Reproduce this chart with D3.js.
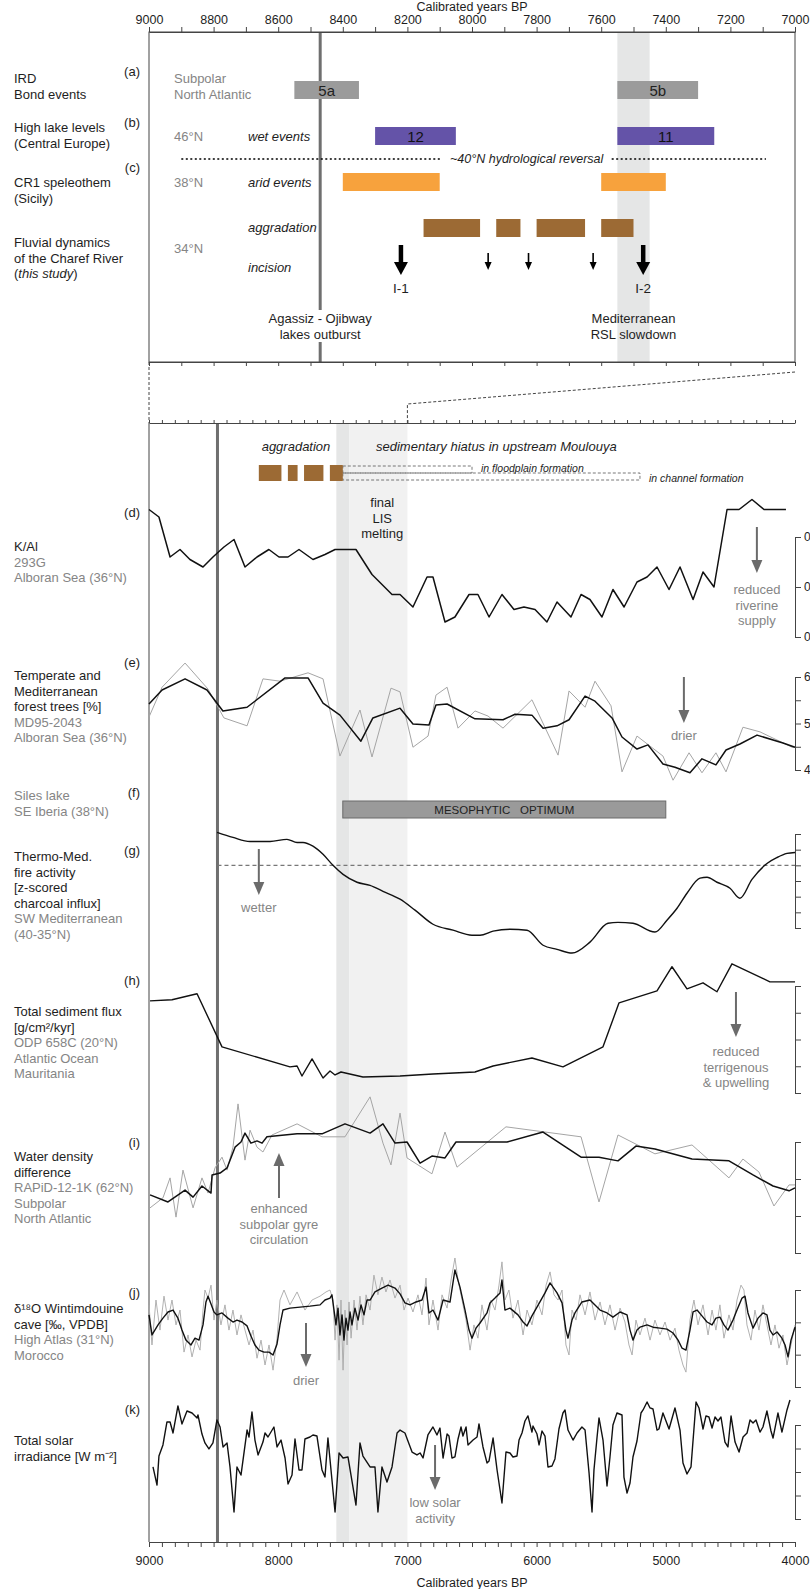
<!DOCTYPE html>
<html>
<head>
<meta charset="utf-8">
<script src="https://cdn.jsdelivr.net/npm/d3@7/dist/d3.min.js"></script>
<style>
body{margin:0;background:#fff;}
svg{display:block;font-family:"Liberation Sans",Arial,sans-serif;}
</style>
</head>
<body>
<div id="chart"></div>
<script>
// ---------- data (years BP) ----------
var topTicks = d3.range(9000, 6999, -100);
var lowTicks = d3.range(9000, 3999, -100);

var bondEvents = [{label:"5a", start:8550, end:8350}, {label:"5b", start:7550, end:7300}];
var lakeEvents = [{label:"12", start:8300, end:8050}, {label:"11", start:7550, end:7250}];
var aridEvents = [{start:8400, end:8100}, {start:7600, end:7400}];
var aggradation = [[8150, 7975], [7925, 7850], [7800, 7650], [7600, 7500]];
var incisions = [{yr:8220, big:true, label:"I-1"}, {yr:7950}, {yr:7825}, {yr:7625}, {yr:7470, big:true, label:"I-2"}];
var outburstYr = 8470;
var rslBand = [7550, 7450];
var lisBand = [7450, 7000];
var reversalLine = [8900, 7090];
var hiatusFloodplain = [7500, 6500];
var hiatusChannel = [7500, 5200];
var mesophytic = [7500, 5000];

var kAl = [[9000,0.271],[8923,0.268],[8837,0.252],[8760,0.255],[8683,0.251],[8582,0.248],[8505,0.252],[8420,0.256],
  [8342,0.259],[8257,0.248],[8164,0.252],[8072,0.255],[7994,0.252],[7924,0.252],[7839,0.255],[7731,0.251],[7638,0.253],
  [7560,0.255],[7398,0.255],[7274,0.245],[7119,0.237],[7057,0.237],[6957,0.232],[6848,0.244],[6802,0.244],[6709,0.226],
  [6632,0.228],[6523,0.237],[6454,0.237],[6368,0.228],[6268,0.237],[6175,0.231],[6098,0.232],[6012,0.231],[5920,0.226],
  [5842,0.234],[5734,0.228],[5656,0.237],[5587,0.235],[5494,0.228],[5409,0.239],[5323,0.232],[5223,0.242],[5145,0.244],
  [5068,0.248],[4975,0.239],[4890,0.248],[4789,0.235],[4712,0.246],[4627,0.240],[4526,0.271],[4433,0.271],[4333,0.275],
  [4240,0.271],[4070,0.271]];

var forestSmooth = [[9000,54.2],[8899,57.2],[8721,59.6],[8551,57.2],[8428,52.7],[8241,53.5],[7947,59.8],[7769,59.8],
  [7653,54.4],[7522,51.8],[7360,46.2],[7267,51.2],[7057,53.3],[6957,49.9],[6833,49.7],[6779,54.0],[6693,54.2],[6477,51.0],
  [6260,50.8],[6167,52.0],[6036,51.8],[5950,49.0],[5842,49.5],[5749,50.8],[5625,55.9],[5548,54.8],[5416,51.2],[5339,47.1],
  [5223,44.5],[5138,45.4],[5022,41.3],[4929,40.6],[4813,39.4],[4720,42.4],[4612,41.1],[4534,44.3],[4426,45.6],[4294,47.5],
  [4093,45.8],[4000,44.9]];
var forestRaw = [[9000,51.4],[8899,57.8],[8721,63.0],[8543,57.4],[8420,51.2],[8241,49.5],[8118,59.6],[7986,59.1],
  [7769,60.9],[7653,59.6],[7522,43.0],[7367,52.9],[7274,42.8],[7127,57.6],[7057,56.8],[6957,44.9],[6840,47.3],[6779,56.1],
  [6693,57.8],[6608,49.0],[6477,52.7],[6376,51.6],[6260,49.0],[6036,55.1],[5834,43.2],[5749,57.0],[5625,53.5],[5548,59.1],
  [5424,53.8],[5339,39.6],[5223,47.3],[5022,43.0],[4944,37.8],[4820,43.7],[4720,39.4],[4612,43.7],[4534,39.6],[4403,49.2],
  [4271,48.2],[4023,44.9],[4000,44.9]];

var fireZ = [[8473,1.05],[8350,0.89],[8218,0.76],[8063,0.76],[7932,0.83],[7854,0.73],[7808,0.73],[7731,0.61],[7653,0.35],
  [7576,0.0],[7498,-0.29],[7390,-0.54],[7289,-0.64],[7189,-0.83],[7057,-1.08],[6941,-1.43],[6802,-1.88],[6647,-2.07],
  [6500,-2.23],[6438,-2.23],[6337,-2.10],[6206,-2.04],[6074,-2.07],[5950,-2.55],[5842,-2.68],[5726,-2.80],[5587,-2.45],
  [5447,-1.85],[5370,-1.82],[5254,-1.85],[5084,-2.13],[4991,-1.75],[4913,-1.37],[4836,-0.89],[4735,-0.41],[4681,-0.38],
  [4604,-0.54],[4503,-0.73],[4426,-1.05],[4333,-0.45],[4217,0.06],[4139,0.25],[4062,0.38],[4000,0.41]];

var sedFlux = [[8992,6.89],[8822,6.97],[8628,7.42],[8435,3.45],[7909,1.95],[7854,2.02],[7816,1.27],[7738,2.55],[7653,1.12],
  [7599,1.65],[7560,1.35],[7514,1.57],[7344,1.20],[7057,1.27],[6802,1.42],[6477,1.57],[6337,2.02],[6036,2.62],[5796,1.95],
  [5486,3.45],[5362,6.74],[5068,7.64],[4952,9.44],[4836,7.79],[4712,8.24],[4604,7.57],[4488,9.66],[4194,8.31],[4000,8.31]];

var densSmooth = [[8992,0.357],[8853,0.338],[8721,0.370],[8659,0.351],[8590,0.381],[8520,0.362],[8512,0.411],[8450,0.416],
  [8396,0.430],[8334,0.486],[8288,0.500],[8257,0.524],[8211,0.497],[8164,0.503],[8125,0.497],[8087,0.514],[7854,0.522],
  [7661,0.522],[7483,0.549],[7289,0.524],[7189,0.549],[7096,0.497],[7003,0.500],[6902,0.443],[6810,0.462],[6709,0.457],
  [6624,0.500],[6229,0.500],[5950,0.527],[5656,0.459],[5517,0.459],[5370,0.449],[5231,0.489],[5084,0.481],[4797,0.454],
  [4511,0.449],[4325,0.411],[4170,0.381],[4046,0.368],[4000,0.376]];
var densRaw = [[8992,0.322],[8892,0.349],[8837,0.403],[8791,0.297],[8737,0.424],[8659,0.322],[8590,0.403],[8543,0.362],
  [8489,0.430],[8435,0.459],[8396,0.424],[8350,0.486],[8311,0.603],[8257,0.451],[8218,0.532],[8164,0.486],[8118,0.473],
  [8048,0.519],[7854,0.549],[7661,0.514],[7483,0.514],[7289,0.622],[7189,0.497],[7127,0.438],[7057,0.578],[7003,0.457],
  [6810,0.414],[6709,0.527],[6616,0.432],[6237,0.541],[5656,0.514],[5517,0.338],[5370,0.519],[5084,0.468],[4797,0.492],
  [4511,0.403],[4403,0.454],[4279,0.419],[4163,0.327],[4046,0.384],[4000,0.384]];

var d18oSmooth = [[9000,-8.23],[8977,-7.61],[8930,-7.92],[8892,-8.13],[8853,-8.32],[8814,-8.38],[8776,-8.13],[8745,-7.76],
  [8714,-7.45],[8675,-7.30],[8644,-7.51],[8613,-7.45],[8582,-7.92],[8559,-8.63],[8543,-8.81],[8520,-8.57],[8497,-8.32],
  [8474,-8.23],[8435,-8.29],[8389,-8.13],[8350,-8.01],[8319,-8.07],[8280,-8.01],[8241,-7.89],[8211,-7.58],[8180,-7.30],
  [8149,-7.14],[8110,-7.08],[8071,-7.08],[8040,-6.99],[8009,-7.33],[7986,-7.92],[7963,-8.38],[7909,-8.44],[7831,-8.47],
  [7754,-8.50],[7676,-8.54],[7638,-8.69],[7599,-8.75],[7584,-8.85],[7568,-8.38],[7553,-7.92],[7537,-8.44],[7522,-7.61],
  [7506,-8.23],[7491,-7.45],[7475,-8.13],[7460,-7.76],[7444,-8.32],[7429,-7.92],[7406,-8.44],[7382,-8.07],[7359,-8.54],
  [7336,-8.23],[7313,-8.69],[7289,-8.69],[7251,-8.94],[7197,-9.06],[7150,-9.15],[7096,-9.06],[7057,-8.88],[7019,-8.60],
  [6980,-8.54],[6933,-8.63],[6887,-8.69],[6856,-9.09],[6833,-8.29],[6802,-8.38],[6763,-8.07],[6724,-8.69],[6670,-8.63],
  [6632,-9.62],[6593,-9.09],[6554,-8.38],[6523,-7.76],[6500,-7.51],[6469,-7.82],[6438,-7.98],[6384,-8.29],[6361,-8.60],
  [6322,-8.75],[6283,-8.91],[6268,-9.31],[6245,-8.38],[6206,-8.44],[6144,-8.23],[6105,-8.01],[6074,-7.89],[6036,-8.20],
  [5997,-8.47],[5935,-8.91],[5896,-9.22],[5842,-8.91],[5803,-8.60],[5773,-7.76],[5757,-7.51],[5726,-8.07],[5703,-8.29],
  [5649,-8.63],[5587,-8.69],[5509,-8.38],[5455,-8.29],[5409,-8.16],[5354,-8.32],[5300,-8.23],[5277,-7.76],[5254,-7.45],
  [5223,-7.76],[5200,-7.85],[5145,-7.92],[5099,-7.85],[5045,-7.82],[4991,-7.79],[4944,-7.67],[4905,-7.45],[4874,-7.20],
  [4844,-7.14],[4813,-7.76],[4789,-8.32],[4758,-8.38],[4720,-8.20],[4681,-8.01],[4642,-7.92],[4612,-8.13],[4581,-8.16],
  [4550,-7.92],[4519,-7.76],[4480,-8.07],[4449,-8.38],[4410,-8.75],[4387,-8.81],[4364,-8.29],[4325,-7.82],[4286,-8.13],
  [4248,-8.29],[4217,-8.23],[4194,-7.76],[4170,-7.61],[4139,-7.70],[4101,-7.51],[4077,-7.30],[4054,-6.93],[4031,-7.45],
  [4000,-7.85]];
var d18oRaw = [[9000,-8.54],[8977,-7.30],[8946,-8.69],[8915,-7.76],[8884,-8.81],[8853,-8.07],[8822,-8.69],[8791,-7.92],
  [8760,-8.38],[8729,-7.08],[8698,-7.61],[8667,-6.93],[8636,-7.45],[8605,-7.14],[8582,-8.38],[8567,-9.00],[8543,-8.75],
  [8520,-9.15],[8497,-8.07],[8474,-8.69],[8443,-7.92],[8412,-8.54],[8381,-7.76],[8350,-8.38],[8319,-7.61],[8288,-8.23],
  [8257,-7.76],[8226,-7.30],[8195,-7.76],[8164,-6.89],[8133,-7.45],[8102,-6.68],[8071,-7.30],[8040,-6.52],[8009,-7.51],
  [7986,-8.69],[7955,-9.00],[7909,-8.54],[7854,-8.94],[7793,-8.38],[7738,-8.69],[7676,-8.81],[7630,-8.94],[7599,-9.00],
  [7576,-8.69],[7560,-7.45],[7545,-8.54],[7529,-6.83],[7514,-8.69],[7498,-6.52],[7483,-8.38],[7467,-7.30],[7452,-8.63],
  [7436,-7.51],[7413,-8.69],[7390,-7.76],[7367,-8.81],[7344,-7.92],[7320,-8.85],[7289,-8.38],[7259,-9.46],[7228,-8.85],
  [7197,-9.40],[7166,-8.94],[7135,-9.31],[7096,-8.75],[7057,-9.15],[7026,-8.38],[6995,-8.75],[6957,-8.32],[6918,-8.85],
  [6887,-8.23],[6856,-9.37],[6833,-7.92],[6802,-8.69],[6763,-7.76],[6732,-8.85],[6693,-8.44],[6662,-9.31],[6632,-9.99],
  [6608,-9.31],[6577,-8.69],[6546,-8.07],[6515,-7.14],[6485,-7.92],[6454,-7.51],[6423,-8.54],[6384,-7.76],[6353,-8.69],
  [6322,-8.38],[6291,-9.15],[6268,-9.87],[6245,-8.69],[6214,-9.00],[6183,-8.13],[6144,-8.69],[6105,-7.61],[6074,-8.38],
  [6036,-7.92],[5997,-8.69],[5958,-8.23],[5927,-9.15],[5896,-9.56],[5865,-8.85],[5834,-8.69],[5803,-9.00],[5773,-7.30],
  [5749,-6.99],[5726,-8.38],[5695,-8.07],[5664,-8.85],[5625,-8.23],[5587,-8.94],[5548,-8.07],[5509,-8.63],[5471,-7.92],
  [5432,-8.54],[5393,-7.76],[5354,-8.44],[5316,-8.01],[5285,-7.30],[5261,-6.99],[5231,-8.07],[5200,-7.61],[5161,-8.13],
  [5122,-7.45],[5084,-8.07],[5045,-7.61],[5006,-8.01],[4967,-7.45],[4929,-7.82],[4898,-7.14],[4867,-6.68],[4844,-6.46],
  [4813,-8.07],[4782,-8.69],[4751,-7.92],[4712,-8.54],[4673,-7.61],[4642,-8.38],[4612,-7.76],[4581,-8.54],[4550,-7.51],
  [4511,-8.23],[4480,-7.76],[4449,-8.69],[4418,-9.15],[4395,-9.00],[4372,-7.92],[4341,-7.45],[4310,-8.38],[4279,-7.76],
  [4248,-8.54],[4217,-7.92],[4186,-7.30],[4155,-7.92],[4124,-7.20],[4093,-7.61],[4062,-6.68],[4031,-7.30],[4000,-7.92]];

var tsi = [[8969,-0.357],[8938,-0.511],[8923,-0.264],[8892,-0.170],[8861,0.026],[8837,0.026],[8814,-0.068],[8776,0.162],
  [8745,0.009],[8706,0.119],[8667,0.102],[8628,0.060],[8621,0.085],[8590,-0.077],[8567,-0.153],[8536,-0.204],[8505,-0.153],
  [8474,0.043],[8450,-0.017],[8427,-0.187],[8396,-0.153],[8373,-0.357],[8342,-0.740],[8319,-0.357],[8288,-0.426],
  [8241,-0.043],[8226,-0.102],[8203,0.111],[8180,-0.128],[8156,-0.255],[8118,-0.145],[8102,-0.068],[8079,-0.102],
  [8033,-0.017],[8009,-0.187],[7978,-0.128],[7947,-0.281],[7924,-0.502],[7893,-0.426],[7870,-0.119],[7839,-0.383],
  [7816,-0.383],[7793,-0.119],[7754,-0.102],[7731,-0.085],[7700,-0.094],[7661,-0.383],[7638,-0.443],[7615,-0.111],
  [7560,-0.740],[7529,-0.238],[7498,-0.281],[7460,-0.272],[7398,-0.681],[7367,-0.153],[7344,-0.264],[7289,-0.357],
  [7251,-0.357],[7228,-0.740],[7197,-0.357],[7158,-0.485],[7119,-0.357],[7080,-0.068],[7057,-0.043],[7019,-0.068],
  [6964,-0.230],[6926,-0.255],[6902,-0.238],[6879,-0.281],[6841,-0.085],[6802,-0.017],[6771,-0.085],[6748,-0.026],
  [6724,-0.281],[6693,-0.077],[6678,-0.094],[6655,-0.281],[6632,-0.272],[6608,-0.119],[6585,-0.017],[6570,-0.094],
  [6546,-0.017],[6531,-0.170],[6492,-0.128],[6461,-0.102],[6446,0.009],[6415,-0.187],[6384,-0.323],[6368,-0.306],
  [6337,-0.111],[6306,-0.383],[6268,-0.664],[6237,-0.230],[6206,-0.238],[6183,-0.272],[6152,-0.264],[6136,-0.128],
  [6113,-0.068],[6090,0.034],[6067,0.077],[6036,-0.060],[6028,-0.009],[5997,-0.077],[5981,-0.170],[5958,-0.051],
  [5935,-0.094],[5912,-0.357],[5881,-0.349],[5858,-0.289],[5827,-0.034],[5796,0.102],[5780,0.128],[5757,-0.043],
  [5718,-0.128],[5687,-0.068],[5649,-0.017],[5625,-0.043],[5594,-0.409],[5571,-0.740],[5556,-0.383],[5532,-0.102],
  [5517,0.060],[5486,-0.128],[5455,-0.519],[5432,-0.272],[5409,0.0],[5378,0.102],[5339,0.085],[5324,-0.443],[5300,-0.579],
  [5277,-0.494],[5254,-0.272],[5223,-0.136],[5192,0.102],[5176,0.128],[5145,0.196],[5122,0.145],[5099,0.136],[5068,-0.043],
  [5053,-0.034],[5022,0.102],[4975,-0.034],[4929,0.145],[4890,-0.043],[4867,-0.323],[4836,-0.417],[4805,-0.357],
  [4766,0.196],[4743,0.145],[4712,-0.034],[4689,0.077],[4666,0.068],[4642,-0.026],[4619,0.068],[4596,0.034],[4573,0.068],
  [4542,-0.145],[4519,-0.187],[4495,0.077],[4464,-0.145],[4433,-0.230],[4402,-0.102],[4371,-0.068],[4348,0.043],
  [4325,0.017],[4302,0.043],[4271,-0.060],[4248,-0.017],[4217,0.119],[4186,-0.051],[4170,-0.111],[4132,0.102],
  [4101,-0.060],[4062,0.128],[4039,0.213]];

// ---------- layout ----------
var W = 810, H = 1589;
var L = 149, R = 795;
var topY0 = 32, topY1 = 362, lowY0 = 423, lowY1 = 1542;
var dark = "#1e1e1e", grey = "#858585", arrowGrey = "#6b6b6b";
var FS = 13;

var x1 = d3.scaleLinear().domain([9000, 7000]).range([L, R]);
var x2 = d3.scaleLinear().domain([9000, 4000]).range([L, R]);

var yD = d3.scaleLinear().domain([0.22, 0.26]).range([637, 537]);
var yE = d3.scaleLinear().domain([40, 60]).range([770, 677]);
var yG = d3.scaleLinear().domain([-2, 1]).range([928, 834]);
var yH = d3.scaleLinear().domain([0, 8]).range([1093, 986]);
var yI = d3.scaleLinear().domain([0.2, 0.5]).range([1253, 1142]);
var yJ = d3.scaleLinear().domain([-9, -6]).range([1290, 1387]);
var yK = d3.scaleLinear().domain([-0.8, 0]).range([1519, 1425]);

var svg = d3.select("#chart").append("svg").attr("width", W).attr("height", H);

function txt(x, y, s, o) {
  o = o || {};
  var t = svg.append("text").attr("x", x).attr("y", y)
    .attr("font-size", o.size || FS).attr("fill", o.fill || dark)
    .attr("text-anchor", o.anchor || "start").text(s);
  if (o.italic) t.attr("font-style", "italic");
  return t;
}

function lines(x, y, arr, o) {
  arr.forEach(function (l, i) {
    var oo = Object.assign({}, o || {});
    if (l[1]) oo.fill = grey;
    txt(x, y + i * 15.5, l[0], oo);
  });
}

function downArrow(x, yA, yB, shaft, hw, hl, col) {
  svg.append("line").attr("x1", x).attr("x2", x).attr("y1", yA).attr("y2", yB - hl + 1)
    .attr("stroke", col).attr("stroke-width", shaft);
  svg.append("path").attr("d", "M" + (x - hw / 2) + "," + (yB - hl) + "L" + (x + hw / 2) + "," + (yB - hl) + "L" + x + "," + yB + "Z")
    .attr("fill", col);
}
function upArrow(x, yA, yB, shaft, hw, hl, col) {
  svg.append("line").attr("x1", x).attr("x2", x).attr("y1", yA).attr("y2", yB + hl - 1)
    .attr("stroke", col).attr("stroke-width", shaft);
  svg.append("path").attr("d", "M" + (x - hw / 2) + "," + (yB + hl) + "L" + (x + hw / 2) + "," + (yB + hl) + "L" + x + "," + yB + "Z")
    .attr("fill", col);
}

// ---------- bands and event lines ----------
svg.append("rect").attr("x", x1(rslBand[0])).attr("y", topY0).attr("width", x1(rslBand[1]) - x1(rslBand[0]))
  .attr("height", topY1 - topY0).attr("fill", "#e5e6e6");
svg.append("rect").attr("x", x2(rslBand[0])).attr("y", lowY0).attr("width", x2(rslBand[1]) - x2(rslBand[0]))
  .attr("height", lowY1 - lowY0).attr("fill", "#e5e6e6");
svg.append("rect").attr("x", x2(lisBand[0])).attr("y", lowY0).attr("width", x2(lisBand[1]) - x2(lisBand[0]))
  .attr("height", lowY1 - lowY0).attr("fill", "#f1f1f1");

svg.append("line").attr("x1", x1(outburstYr)).attr("x2", x1(outburstYr)).attr("y1", topY0).attr("y2", topY1)
  .attr("stroke", "#6f6f6f").attr("stroke-width", 3);
svg.append("line").attr("x1", x2(outburstYr)).attr("x2", x2(outburstYr)).attr("y1", lowY0).attr("y2", lowY1)
  .attr("stroke", "#6f6f6f").attr("stroke-width", 3);

// ---------- top panel frame and axes ----------
svg.append("rect").attr("x", L).attr("y", topY0).attr("width", R - L).attr("height", topY1 - topY0)
  .attr("fill", "none").attr("stroke", "#444").attr("stroke-width", 1);

var axTop = svg.append("g").attr("transform", "translate(0," + topY0 + ")")
  .call(d3.axisTop(x1).tickValues(topTicks).tickSize(5).tickSizeOuter(0)
    .tickFormat(function (d) { return d % 200 === 0 ? d : ""; }));
axTop.selectAll("text").attr("font-size", 12.5).attr("fill", dark).attr("font-family", "Liberation Sans, Arial");
axTop.selectAll("line,path").attr("stroke", "#444");
txt((L + R) / 2, 11, "Calibrated years BP", {anchor: "middle", size: 12.5});

var axTopB = svg.append("g").attr("transform", "translate(0," + topY1 + ")")
  .call(d3.axisBottom(x1).tickValues(topTicks).tickSize(4).tickSizeOuter(0).tickFormat(""));
axTopB.selectAll("line,path").attr("stroke", "#444");

// zoom connectors
svg.append("path").attr("d", "M" + L + "," + topY1 + "L" + L + "," + lowY0)
  .attr("stroke", "#444").attr("stroke-dasharray", "3,2").attr("fill", "none");
svg.append("path").attr("d", "M" + R + "," + (topY1 + 10) + "L" + x2(7000) + "," + (topY1 + 42) + "L" + x2(7000) + "," + lowY0)
  .attr("stroke", "#444").attr("stroke-dasharray", "3,2").attr("fill", "none");

// ---------- top panel content ----------
bondEvents.forEach(function (e) {
  svg.append("rect").attr("x", x1(e.start)).attr("y", 81).attr("width", x1(e.end) - x1(e.start)).attr("height", 18)
    .attr("fill", "#9b9b9b");
  txt((x1(e.start) + x1(e.end)) / 2, 96, e.label, {anchor: "middle", size: 15, fill: "#222"});
});
lakeEvents.forEach(function (e) {
  svg.append("rect").attr("x", x1(e.start)).attr("y", 127).attr("width", x1(e.end) - x1(e.start)).attr("height", 18)
    .attr("fill", "#6453a8");
  txt((x1(e.start) + x1(e.end)) / 2, 142, e.label, {anchor: "middle", size: 15, fill: "#111"});
});
aridEvents.forEach(function (e) {
  svg.append("rect").attr("x", x1(e.start)).attr("y", 173).attr("width", x1(e.end) - x1(e.start)).attr("height", 18)
    .attr("fill", "#f7a23d");
});
aggradation.forEach(function (e) {
  svg.append("rect").attr("x", x1(e[0])).attr("y", 219).attr("width", x1(e[1]) - x1(e[0])).attr("height", 18)
    .attr("fill", "#9c6a34");
});
incisions.forEach(function (e) {
  if (e.big) {
    downArrow(x1(e.yr), 245, 275, 4.5, 14, 13, "#000");
    txt(x1(e.yr), 293, e.label, {anchor: "middle", size: 13.5});
  } else {
    downArrow(x1(e.yr), 253, 270, 1.6, 7, 8, "#000");
  }
});

// hydrological reversal
svg.append("line").attr("x1", x1(reversalLine[0])).attr("x2", x1(7840) - 82).attr("y1", 159).attr("y2", 159)
  .attr("stroke", "#000").attr("stroke-width", 1.3).attr("stroke-dasharray", "2,2.5");
svg.append("line").attr("x1", x1(7840) + 88).attr("x2", x1(reversalLine[1])).attr("y1", 159).attr("y2", 159)
  .attr("stroke", "#000").attr("stroke-width", 1.3).attr("stroke-dasharray", "2,2.5");
txt(x1(7840) + 3, 163, "~40°N hydrological reversal", {anchor: "middle", size: 12.5, italic: true});

// left labels of top panel
lines(14, 83, [["IRD"], ["Bond events"]]);
lines(14, 132, [["High lake levels"], ["(Central Europe)"]]);
lines(14, 187, [["CR1 speleothem"], ["(Sicily)"]]);
lines(14, 247, [["Fluvial dynamics"], ["of the Charef River"]]);
var ts = txt(14, 278, "(");
ts.append("tspan").attr("font-style", "italic").text("this study");
ts.append("tspan").text(")");
txt(140, 76, "(a)", {anchor: "end"});
txt(140, 127, "(b)", {anchor: "end"});
txt(140, 172, "(c)", {anchor: "end"});

lines(174, 83, [["Subpolar", 1], ["North Atlantic", 1]]);
txt(174, 141, "46°N", {fill: grey});
txt(174, 187, "38°N", {fill: grey});
txt(174, 253, "34°N", {fill: grey});
txt(248, 141, "wet events", {italic: true});
txt(248, 187, "arid events", {italic: true});
txt(248, 232, "aggradation", {italic: true});
txt(248, 272, "incision", {italic: true});

svg.append("rect").attr("x", x1(outburstYr) - 58).attr("y", 310).attr("width", 116).attr("height", 32).attr("fill", "#fff");
txt(x1(outburstYr), 323, "Agassiz - Ojibway", {anchor: "middle"});
txt(x1(outburstYr), 339, "lakes outburst", {anchor: "middle"});
txt(x1(7500), 323, "Mediterranean", {anchor: "middle"});
txt(x1(7500), 339, "RSL slowdown", {anchor: "middle"});

// ---------- lower panel frame and axes ----------
var axLowT = svg.append("g").attr("transform", "translate(0," + lowY0 + ")")
  .call(d3.axisTop(x2).tickValues(lowTicks).tickSize(3).tickSizeOuter(0).tickFormat(""));
axLowT.selectAll("line,path").attr("stroke", "#444");
svg.append("line").attr("x1", L).attr("x2", L).attr("y1", lowY0).attr("y2", lowY1).attr("stroke", "#444");

var axBot = svg.append("g").attr("transform", "translate(0," + lowY1 + ")")
  .call(d3.axisBottom(x2).tickValues(lowTicks).tickSize(5).tickSizeOuter(0).tickPadding(9)
    .tickFormat(function (d) { return d % 1000 === 0 ? d : ""; }));
axBot.selectAll("text").attr("font-size", 12.5).attr("fill", dark).attr("font-family", "Liberation Sans, Arial");
axBot.selectAll("line,path").attr("stroke", "#444");
txt((L + R) / 2, 1587, "Calibrated years BP", {anchor: "middle", size: 12.5});

// right brackets (labels run off the right edge as in the original figure)
function bracket(ys, ticks, fmt) {
  var g = svg.append("g").attr("transform", "translate(" + R + ",0)")
    .call(d3.axisRight(ys).tickValues(ticks).tickSize(6).tickSizeOuter(0).tickPadding(3).tickFormat(fmt || function () { return ""; }));
  g.selectAll("line,path").attr("stroke", "#444");
  g.selectAll("text").attr("font-size", 12).attr("fill", dark).attr("font-family", "Liberation Sans, Arial");
}
bracket(yD, [0.22, 0.24, 0.26], d3.format(".2f"));
bracket(yE, [40, 45, 50, 55, 60], function (d) { return d % 10 === 0 ? d : ""; });
bracket(yG, d3.range(-2, 1.01, 0.5));
bracket(yH, [0, 2, 4, 6, 8]);
bracket(yI, [0.2, 0.3, 0.4, 0.5]);
bracket(yJ, [-9, -8, -7, -6]);
bracket(yK, [-0.8, -0.6, -0.4, -0.2, 0]);

// ---------- lower panel: fluvial record ----------
txt(296, 451, "aggradation", {anchor: "middle", italic: true});
txt(376, 451, "sedimentary hiatus in upstream Moulouya", {italic: true});
svg.append("rect").attr("x", x2(hiatusFloodplain[0])).attr("y", 466).attr("width", x2(hiatusFloodplain[1]) - x2(hiatusFloodplain[0]))
  .attr("height", 7).attr("fill", "none").attr("stroke", "#555").attr("stroke-width", 0.8).attr("stroke-dasharray", "3,2");
svg.append("rect").attr("x", x2(hiatusChannel[0])).attr("y", 473).attr("width", x2(hiatusChannel[1]) - x2(hiatusChannel[0]))
  .attr("height", 7).attr("fill", "none").attr("stroke", "#555").attr("stroke-width", 0.8).attr("stroke-dasharray", "3,2");
txt(x2(hiatusFloodplain[1]) + 9, 472, "in floodplain formation", {italic: true, size: 10.5});
txt(x2(hiatusChannel[1]) + 9, 482, "in channel formation", {italic: true, size: 10.5});
aggradation.forEach(function (e) {
  svg.append("rect").attr("x", x2(e[0])).attr("y", 465).attr("width", x2(e[1]) - x2(e[0])).attr("height", 16)
    .attr("fill", "#9c6a34");
});
lines(x2(7195), 507, [["final"], ["LIS"], ["melting"]], {anchor: "middle"});

// ---------- series ----------
function series(data, ys, col, w, curve) {
  svg.append("path").datum(data)
    .attr("d", d3.line().x(function (d) { return x2(d[0]); }).y(function (d) { return ys(d[1]); }).curve(curve || d3.curveLinear))
    .attr("fill", "none").attr("stroke", col).attr("stroke-width", w).attr("stroke-linejoin", "round");
}

// (d)
series(kAl, yD, "#111", 1.5);
txt(140, 517, "(d)", {anchor: "end"});
lines(14, 551, [["K/Al"], ["293G", 1], ["Alboran Sea (36°N)", 1]]);
downArrow(x2(4295), 527, 573, 2, 11, 13, arrowGrey);
lines(x2(4295), 594, [["reduced", 1], ["riverine", 1], ["supply", 1]], {anchor: "middle"});

// (e)
series(forestRaw, yE, "#a5a5a5", 1);
series(forestSmooth, yE, "#111", 1.5);
txt(140, 667, "(e)", {anchor: "end"});
lines(14, 680, [["Temperate and"], ["Mediterranean"], ["forest trees [%]"], ["MD95-2043", 1], ["Alboran Sea (36°N)", 1]]);
downArrow(x2(4860), 677, 723, 2, 11, 13, arrowGrey);
txt(x2(4860), 740, "drier", {anchor: "middle", fill: grey});

// (f)
svg.append("rect").attr("x", x2(mesophytic[0])).attr("y", 801).attr("width", x2(mesophytic[1]) - x2(mesophytic[0])).attr("height", 17)
  .attr("fill", "#9a9a9a").attr("stroke", "#6a6a6a").attr("stroke-width", 1);
txt((x2(mesophytic[0]) + x2(mesophytic[1])) / 2, 814, "MESOPHYTIC\u00a0\u00a0\u00a0OPTIMUM", {anchor: "middle", size: 11.5, fill: "#222"});
txt(140, 797, "(f)", {anchor: "end"});
lines(14, 800, [["Siles lake", 1], ["SE Iberia (38°N)", 1]]);

// (g)
svg.append("line").attr("x1", x2(outburstYr)).attr("x2", R).attr("y1", yG(0)).attr("y2", yG(0))
  .attr("stroke", "#777").attr("stroke-dasharray", "4,3").attr("stroke-width", 1.2);
series(fireZ, yG, "#111", 1.4, d3.curveMonotoneX);
txt(140, 855, "(g)", {anchor: "end"});
lines(14, 861, [["Thermo-Med."], ["fire activity"], ["[z-scored"], ["charcoal influx]"], ["SW Mediterranean", 1], ["(40-35°N)", 1]]);
downArrow(x2(8150), 849, 895, 2, 11, 13, arrowGrey);
txt(x2(8150), 912, "wetter", {anchor: "middle", fill: grey});

// (h)
series(sedFlux, yH, "#111", 1.4);
txt(140, 985, "(h)", {anchor: "end"});
lines(14, 1016, [["Total sediment flux"], ["[g/cm²/kyr]"], ["ODP 658C (20°N)", 1], ["Atlantic Ocean", 1], ["Mauritania", 1]]);
downArrow(x2(4457), 992, 1037, 2, 11, 13, arrowGrey);
lines(x2(4457), 1056, [["reduced", 1], ["terrigenous", 1], ["& upwelling", 1]], {anchor: "middle"});

// (i)
series(densRaw, yI, "#a5a5a5", 1);
series(densSmooth, yI, "#111", 1.5);
txt(140, 1147, "(i)", {anchor: "end"});
lines(14, 1161, [["Water density"], ["difference"], ["RAPiD-12-1K (62°N)", 1], ["Subpolar", 1], ["North Atlantic", 1]]);
upArrow(x2(7994), 1198, 1153, 2, 11, 13, arrowGrey);
lines(x2(7994), 1213, [["enhanced", 1], ["subpolar gyre", 1], ["circulation", 1]], {anchor: "middle"});

// (j)
series(d18oRaw, yJ, "#a8a8a8", 0.9);
series(d18oSmooth, yJ, "#111", 1.4);
txt(140, 1297, "(j)", {anchor: "end"});
lines(14, 1313, [["δ¹⁸O Wintimdouine"], ["cave [‰, VPDB]"], ["High Atlas (31°N)", 1], ["Morocco", 1]]);
downArrow(x2(7785), 1323, 1367, 2, 11, 13, arrowGrey);
txt(x2(7785), 1385, "drier", {anchor: "middle", fill: grey});

// (k)
series(tsi, yK, "#111", 1.4);
txt(140, 1414, "(k)", {anchor: "end"});
lines(14, 1445, [["Total solar"], ["irradiance [W m⁻²]"]]);
downArrow(x2(6786), 1445, 1490, 2, 11, 13, arrowGrey);
lines(x2(6786), 1507, [["low solar", 1], ["activity", 1]], {anchor: "middle"});
</script>
</body>
</html>
